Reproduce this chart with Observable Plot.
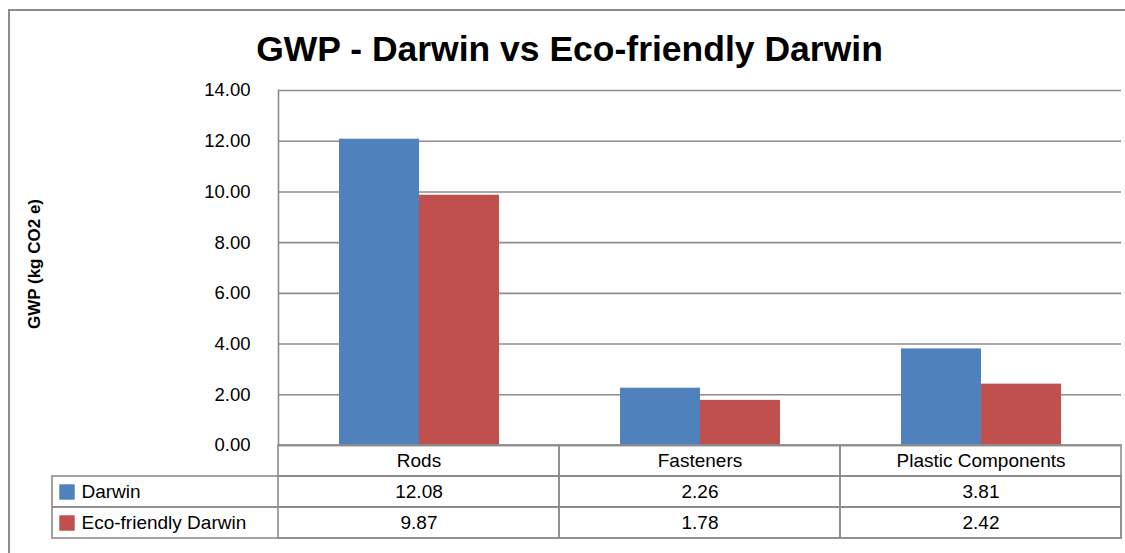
<!DOCTYPE html>
<html>
<head>
<meta charset="utf-8">
<script src="https://cdn.jsdelivr.net/npm/d3@7"></script>
<script src="https://cdn.jsdelivr.net/npm/@observablehq/plot@0.6"></script>
<style>
  html, body { margin: 0; padding: 0; background: #fff; }
  #wrap { position: relative; width: 1125px; height: 553px; overflow: hidden; font-family: "Liberation Sans", Arial, sans-serif; }
  #border { position: absolute; left: 8px; top: 9px; width: 1140px; height: 560px; border-left: 2px solid #8c8c8c; border-top: 2px solid #8c8c8c; box-sizing: border-box; }
  #title { position: absolute; left: 0; top: 32px; width: 1139px; text-align: center; font-size: 35.5px; font-weight: bold; line-height: 35px; color: #000; white-space: nowrap; }
  #ylabel { position: absolute; left: 34.5px; top: 263.5px; transform: translate(-50%, -50%) rotate(-90deg); font-size: 17px; font-weight: bold; white-space: nowrap; color: #000; }
  .layer { position: absolute; left: 0; }
</style>
</head>
<body>
<div id="wrap">
  <div id="border"></div>
  <div id="title"></div>
  <div id="ylabel"></div>
  <div id="chart" class="layer" style="top:0"></div>
  <div id="table" class="layer" style="top:445px"></div>
</div>
<script>
const title = "GWP - Darwin vs Eco-friendly Darwin";
const yLabel = "GWP (kg CO2 e)";
const categories = ["Rods", "Fasteners", "Plastic Components"];
const series = ["Darwin", "Eco-friendly Darwin"];
const darwin = [12.08, 2.26, 3.81];
const ecoDarwin = [9.87, 1.78, 2.42];
const yTicks = [0, 2, 4, 6, 8, 10, 12, 14];
const colors = ["#4F81BD", "#C0504D"];

document.getElementById("title").textContent = title;
document.getElementById("ylabel").textContent = yLabel;

const seriesValues = [darwin, ecoDarwin];
const data = [];
categories.forEach((c, i) => series.forEach((s, j) => data.push({category: c, series: s, value: seriesValues[j][i]})));

const gridColor = "#8c8c8c";
const fontFamily = "Liberation Sans, Arial, sans-serif";

const chart = Plot.plot({
  width: 1125,
  height: 445,
  marginTop: 90,
  marginBottom: 0,
  marginLeft: 277,
  marginRight: 4,
  style: {background: "transparent", overflow: "visible", fontFamily, fontSize: "18.5px", color: "#000"},
  fx: {domain: categories, padding: 0, axis: null},
  x: {domain: series, paddingInner: 0, paddingOuter: 0.736, axis: null},
  y: {domain: [0, 14], axis: null, label: null},
  color: {domain: series, range: colors},
  marks: [
    Plot.gridY(yTicks, {stroke: gridColor, strokeOpacity: 1, strokeWidth: 1.6}),
    Plot.barY(data, {fx: "category", x: "series", y: "value", fill: "series"}),
    Plot.axisY(yTicks, {fx: () => categories[0], label: null, tickSize: 0, tickPadding: 28, tickFormat: d3.format(".2f"), fontSize: 18.5, fill: "#000"}),
    Plot.ruleY([0], {stroke: gridColor, strokeWidth: 1.6}),
    Plot.frame({anchor: "left", fx: () => categories[0], stroke: gridColor, strokeWidth: 1.6, strokeOpacity: 1})
  ]
});
document.getElementById("chart").append(chart);

const rows = ["header", ...series];
const cells = [];
categories.forEach(c => rows.forEach(r => cells.push({category: c, row: r})));

const table = Plot.plot({
  width: 1125,
  height: 108,
  marginTop: 0,
  marginBottom: 15,
  marginLeft: 277,
  marginRight: 4,
  style: {background: "transparent", overflow: "visible", fontFamily, fontSize: "18.5px", color: "#000"},
  x: {domain: categories, padding: 0, axis: null},
  y: {domain: rows, padding: 0, axis: null},
  color: {domain: series, range: colors},
  marks: [
    Plot.cell(series, {y: d => d, fill: "none", stroke: gridColor, strokeWidth: 1.6, insetLeft: -225}),
    Plot.cell(cells, {x: "category", y: "row", fill: "none", stroke: gridColor, strokeWidth: 1.6}),
    Plot.text(categories, {x: d => d, y: () => "header", text: d => d, fontSize: 19, fill: "#000"}),
    Plot.text(data, {x: "category", y: "series", text: d => d.value.toFixed(2), fontSize: 19, fill: "#000"}),
    Plot.dot(series, {y: d => d, frameAnchor: "left", dx: -210.5, symbol: "square", r: 8.7, fill: d => d, stroke: null}),
    Plot.text(series, {y: d => d, text: d => d, frameAnchor: "left", textAnchor: "start", dx: -196, fontSize: 19, fill: "#000"})
  ]
});
document.getElementById("table").append(table);
</script>
</body>
</html>
